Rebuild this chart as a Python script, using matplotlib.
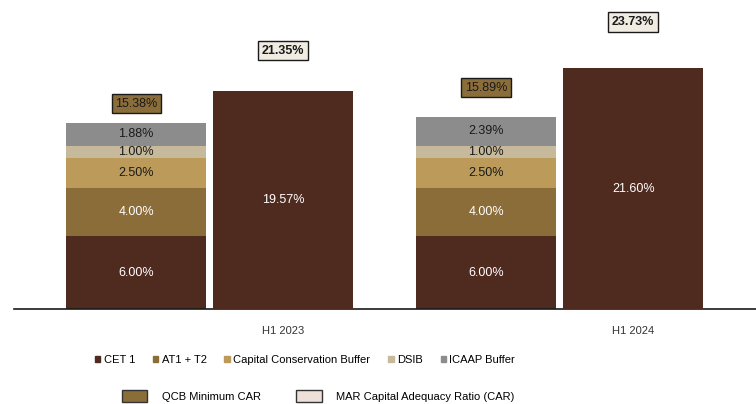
import matplotlib.pyplot as plt
from matplotlib.patches import Patch
import numpy as np

periods = ["H1 2023", "H1 2024"]
layers = ["CET 1", "AT1 + T2", "Capital Conservation Buffer", "DSIB", "ICAAP Buffer"]
cet1 = [6.00, 6.00]
at1_t2 = [4.00, 4.00]
ccb = [2.50, 2.50]
dsib = [1.00, 1.00]
icaap = [1.88, 2.39]
qcb_min_car = [15.38, 15.89]
car_bar = [19.57, 21.60]
mar_car = [21.35, 23.73]

layer_values = [cet1, at1_t2, ccb, dsib, icaap]
layer_colors = ["#4f2a1f", "#8b6d3a", "#bb9a5a", "#c6b99c", "#8c8c8c"]
text_colors = ["white", "white", "#1a1a1a", "#1a1a1a", "#1a1a1a"]

plt.rcParams["font.family"] = ["Liberation Sans", "DejaVu Sans"]

fig = plt.figure(figsize=(7.56, 4.04), dpi=100)
ax = fig.add_axes([14 / 756, 1 - 309 / 404, 742 / 756, 309 / 404])
ax2 = ax.twinx()

x = np.arange(len(periods))
w = 0.4
off = 0.21

bottom = np.zeros(len(periods))
for vals, col, tc in zip(layer_values, layer_colors, text_colors):
    ax.bar(x - off, vals, w, bottom=bottom, color=col, zorder=2)
    for xi, b, v in zip(x - off, bottom, vals):
        ax.text(xi, b + v / 2, f"{v:.2f}%", ha="center", va="center",
                color=tc, fontsize=9, zorder=3)
    bottom += np.array(vals)

ax2.bar(x + off, car_bar, w, color=layer_colors[0], zorder=2)
for xi, v in zip(x + off, car_bar):
    ax2.text(xi, v / 2, f"{v:.2f}%", ha="center", va="center",
             color="white", fontsize=9)

# total labels above the bars
qcb_offsets = [1.6, 2.4]
for xi, tot, o in zip(x - off, qcb_min_car, qcb_offsets):
    ax.text(xi, tot + o, f"{tot:.2f}%", ha="center", va="center", fontsize=9,
            color="#1a1a1a",
            bbox=dict(boxstyle="square,pad=0.28", fc="#8b6d3a", ec="#1a1a1a", lw=1))
for xi, v in zip(x + off, mar_car):
    ax.text(xi, v, f"{v:.2f}%", ha="center", va="center", fontsize=9,
            color="#1a1a1a", fontweight="bold",
            bbox=dict(boxstyle="square,pad=0.3", fc="#f0ece2", ec="#1a1a1a", lw=1))

ax.set_xlim(-0.559, 1.561)
ax.set_ylim(0, 25.54)
ax2.set_ylim(0, 27.7)
for a in (ax, ax2):
    a.set_yticks([])
    for s in ["top", "right", "left"]:
        a.spines[s].set_visible(False)
ax2.spines["bottom"].set_visible(False)
ax.spines["bottom"].set_color("#1a1a1a")
ax.spines["bottom"].set_linewidth(1.2)
ax.set_xticks(x + off)
ax.set_xticklabels(periods, fontsize=8, color="#333333")
ax.tick_params(axis="x", length=0, pad=12)

# legend row 1
handles = [Patch(color=c) for c in layer_colors]
fig.legend(handles, layers, loc="center", bbox_to_anchor=(305 / 756, 1 - 360 / 404),
           ncol=5, frameon=False, fontsize=8, handlelength=0.5, handleheight=0.5,
           handletextpad=0.3, columnspacing=1.6)

# legend row 2
handles2 = [Patch(fc="#8b6d3a", ec="#333333", lw=1), Patch(fc="#ede0d8", ec="#333333", lw=1)]
fig.legend(handles2, ["QCB Minimum CAR", "MAR Capital Adequacy Ratio (CAR)"],
           loc="center", bbox_to_anchor=(318 / 756, 1 - 396 / 404), ncol=2,
           frameon=False, fontsize=8, handlelength=2.3, handleheight=1.3,
           handletextpad=1.3, columnspacing=3.2)

fig.savefig("out.png", dpi=100)
